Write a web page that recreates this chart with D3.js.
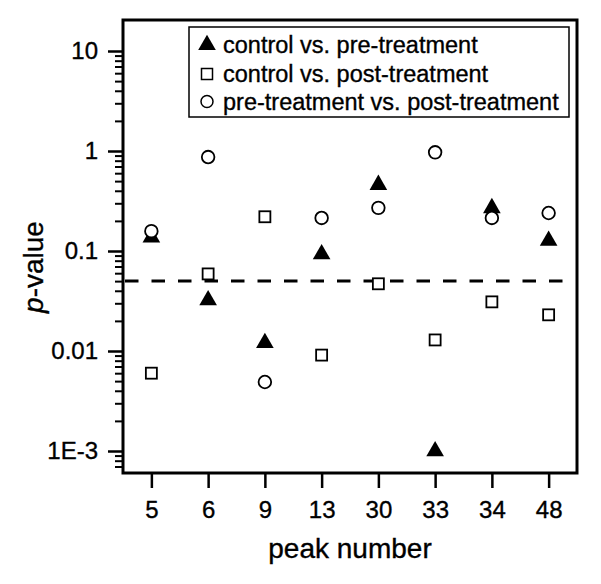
<!DOCTYPE html>
<html><head><meta charset="utf-8">
<script src="https://cdn.jsdelivr.net/npm/d3@7/dist/d3.min.js"></script>
<style>body{margin:0;background:#fff}svg{display:block}text{font-family:"Liberation Sans",Arial,sans-serif;fill:#000;stroke:#000;stroke-width:0.35px}</style>
</head><body>
<script>
const categories = ["5","6","9","13","30","33","34","48"];
const ctrlVsPre  = [0.14, 0.033, 0.0123, 0.095, 0.47, 0.00102, 0.275, 0.13];
const ctrlVsPost = [0.006, 0.059, 0.22, 0.0091, 0.047, 0.0129, 0.031, 0.023];
const preVsPost  = [0.158, 0.87, 0.0049, 0.214, 0.27, 0.97, 0.214, 0.24];
const yTickValues = [0.001, 0.01, 0.1, 1, 10];
const yTickLabels = ["1E-3", "0.01", "0.1", "1", "10"];
const threshold = 0.05;
const legendLabels = ["control vs. pre-treatment", "control vs. post-treatment", "pre-treatment vs. post-treatment"];

const W = 601, H = 584;
const L = 123, R = 577, T = 20, B = 473;
const svg = d3.select("body").append("svg").attr("width", W).attr("height", H);

const x = d3.scalePoint().domain(categories).range([L, R]).padding(0.5);
const y = d3.scaleLog().domain([Math.pow(10, -3.22), Math.pow(10, 1.31)]).range([B, T]);

// minor ticks
const minor = [];
for (let d = -4; d <= 0; d++) for (let k = 2; k <= 9; k++) {
  const v = k * Math.pow(10, d);
  if (v >= y.domain()[0] && v <= 10) minor.push(v);
}
const yMinorAxis = d3.axisLeft(y).tickValues(minor).tickSize(8).tickFormat("");
const gMin = svg.append("g").attr("transform", `translate(${L},0)`).call(yMinorAxis);
gMin.select(".domain").remove();
gMin.selectAll("line").attr("stroke", "#000").attr("stroke-width", 2);

const yAxis = d3.axisLeft(y).tickValues(yTickValues).tickSize(15).tickPadding(10)
  .tickFormat((d, i) => yTickLabels[i]);
const gy = svg.append("g").attr("transform", `translate(${L},0)`).call(yAxis);
gy.select(".domain").remove();
gy.selectAll("line").attr("stroke", "#000").attr("stroke-width", 2.5);
gy.selectAll("text").attr("font-size", 24).attr("dy", "0.33em").attr("x", -25)
  .style("font-family", '"Liberation Sans", Arial, sans-serif');

const xAxis = d3.axisBottom(x).tickSize(15).tickPadding(0);
const gx = svg.append("g").attr("transform", `translate(0,${B})`).call(xAxis);
gx.select(".domain").remove();
gx.selectAll("line").attr("stroke", "#000").attr("stroke-width", 2.5);
gx.selectAll("text").attr("font-size", 24).attr("dy", 0).attr("y", 45)
  .style("font-family", '"Liberation Sans", Arial, sans-serif');

// frame
svg.append("rect").attr("x", L).attr("y", T).attr("width", R - L).attr("height", B - T)
  .attr("fill", "none").attr("stroke", "#000").attr("stroke-width", 3);

// threshold dashed line
svg.append("line").attr("x1", L + 2).attr("x2", 566)
  .attr("y1", y(threshold)).attr("y2", y(threshold))
  .attr("stroke", "#000").attr("stroke-width", 3).attr("stroke-dasharray", "13.5,13");

// markers
const tri = d3.symbol().type(d3.symbolTriangle).size(135);
function drawSquares(g, data) {
  g.selectAll("rect.sq").data(data).join("rect").attr("class", "sq")
    .attr("x", (d, i) => x(categories[i]) - 5.5).attr("y", d => y(d) - 5.5)
    .attr("width", 11).attr("height", 11)
    .attr("fill", "#fff").attr("stroke", "#000").attr("stroke-width", 1.8);
}
const gm = svg.append("g");
drawSquares(gm, ctrlVsPost);
gm.selectAll("path.tri").data(ctrlVsPre).join("path").attr("class", "tri")
  .attr("d", tri).attr("transform", (d, i) => `translate(${x(categories[i])},${y(d) + 1})`)
  .attr("fill", "#000");
gm.selectAll("circle.ci").data(preVsPost).join("circle").attr("class", "ci")
  .attr("cx", (d, i) => x(categories[i])).attr("cy", d => y(d)).attr("r", 6.3)
  .attr("fill", "#fff").attr("stroke", "#000").attr("stroke-width", 1.8);

// legend
const lg = svg.append("g");
lg.append("rect").attr("x", 189).attr("y", 27).attr("width", 380).attr("height", 90)
  .attr("fill", "#fff").attr("stroke", "#000").attr("stroke-width", 1.5);
const rowsY = [53, 82, 110];
lg.append("path").attr("d", tri).attr("transform", `translate(207,${rowsY[0] - 8})`).attr("fill", "#000");
lg.append("rect").attr("x", 207 - 5.5).attr("y", rowsY[1] - 13.5).attr("width", 11).attr("height", 11)
  .attr("fill", "#fff").attr("stroke", "#000").attr("stroke-width", 1.5);
lg.append("circle").attr("cx", 207).attr("cy", rowsY[2] - 8.5).attr("r", 6)
  .attr("fill", "#fff").attr("stroke", "#000").attr("stroke-width", 1.5);
legendLabels.forEach((t, i) => {
  lg.append("text").attr("x", 223).attr("y", rowsY[i]).attr("font-size", 23.5).text(t);
});

// axis titles
svg.append("text").attr("x", (L + R) / 2).attr("y", 558).attr("text-anchor", "middle")
  .attr("font-size", 28).text("peak number");
const yl = svg.append("text").attr("transform", "translate(43,267) rotate(-90)")
  .attr("text-anchor", "middle").attr("font-size", 28);
yl.append("tspan").attr("font-style", "italic").text("p");
yl.append("tspan").text("-value");
</script>
</body></html>
